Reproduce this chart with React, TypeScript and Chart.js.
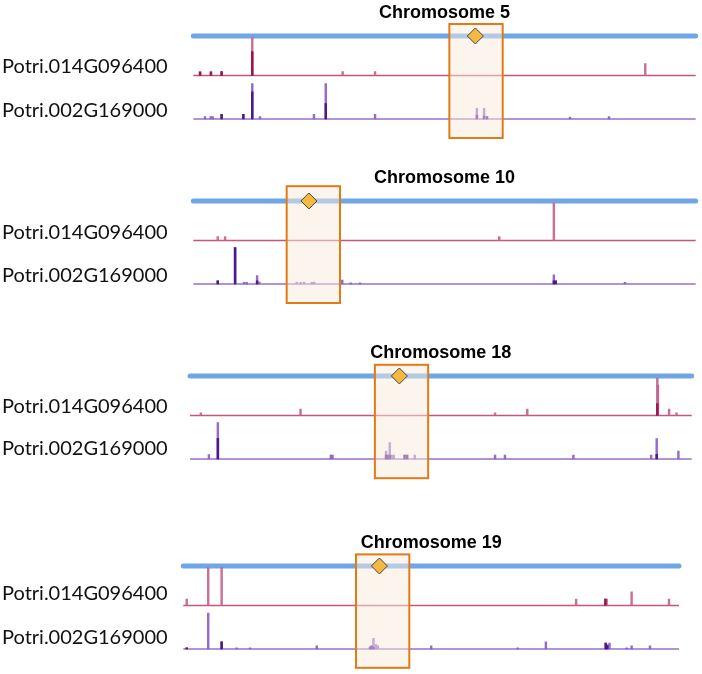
import React, { useEffect, useRef } from "react";
import { Chart, registerables } from "chart.js";

Chart.register(...registerables);

// ---------------- data ----------------
const CHROMOSOMES = ["Chromosome 5", "Chromosome 10", "Chromosome 18", "Chromosome 19"];
const CHROM_LENGTH_MB = [25.9, 22.6, 16.2, 15.9];
const REGION_START_MB = [13.2, 4.2, 5.97, 5.54];
const REGION_END_MB = [15.95, 6.6, 7.69, 7.25];
const GENE_POS_MB = [14.54, 5.2, 6.76, 6.29];
const TRACK_LABELS = ["Potri.014G096400", "Potri.002G169000"];

// [position (Mb), signal height, dense-core height]
const CHR5_014G: number[][] = [
  [0.35, 9, 9], [0.91, 9, 9], [1.46, 10, 10], [3.04, 95, 60], [7.7, 10, 0], [9.37, 10, 0], [23.3, 30, 0],
];
const CHR5_002G: number[][] = [
  [0.6, 6, 0], [0.9, 6, 0], [1.0, 6, 0], [1.46, 12, 12], [2.58, 12, 12], [3.04, 89, 68], [3.44, 6, 0],
  [6.22, 12, 0], [6.83, 89, 39], [9.37, 12, 0], [14.62, 27, 10], [14.99, 27, 8], [15.14, 6, 6],
  [19.42, 5, 0], [21.43, 6, 0],
];
const CHR10_014G: number[][] = [
  [1.1, 10, 0], [1.43, 10, 0], [13.76, 10, 0], [16.22, 94, 0],
];
const CHR10_002G: number[][] = [
  [1.1, 8, 8], [1.88, 91, 91], [2.28, 4, 0], [2.4, 4, 0], [2.87, 21, 8], [2.97, 5, 0], [4.65, 5, 0],
  [4.83, 4, 0], [4.98, 5, 0], [5.33, 4, 0], [5.44, 5, 0], [6.7, 10, 0], [7.08, 3, 0], [7.5, 3, 0],
  [16.22, 23, 8], [16.3, 8, 8], [19.42, 4, 0],
];
const CHR18_014G: number[][] = [
  [0.35, 7, 0], [3.57, 16, 0], [9.85, 7, 0], [10.89, 16, 0], [15.09, 93, 30], [15.11, 76, 0],
  [15.47, 16, 0], [15.71, 7, 0],
];
const CHR18_002G: number[][] = [
  [0.61, 11, 0], [0.9, 91, 52], [4.55, 10, 0], [4.6, 10, 0], [6.33, 20, 10], [6.37, 10, 10],
  [6.45, 41, 10], [6.52, 10, 0], [6.58, 10, 0], [6.93, 10, 10], [7.01, 10, 10], [7.26, 10, 0],
  [9.85, 10, 0], [10.17, 10, 0], [12.38, 10, 0], [14.89, 10, 0], [15.07, 51, 12], [15.77, 20, 0],
];
const CHR19_014G: number[][] = [
  [0.11, 16, 0], [0.8, 95, 0], [1.23, 95, 0], [12.6, 16, 0], [13.54, 16, 16], [13.58, 16, 0],
  [14.38, 34, 0], [15.58, 16, 0],
];
const CHR19_002G: number[][] = [
  [0.11, 3, 3], [0.8, 90, 0], [1.23, 18, 18], [1.71, 3, 0], [2.14, 3, 0], [4.28, 8, 0], [5.99, 5, 5],
  [6.04, 8, 8], [6.1, 27, 5], [6.18, 12, 0], [6.24, 8, 0], [7.95, 8, 0], [10.73, 3, 0], [11.63, 18, 0],
  [13.55, 15, 15], [13.6, 10, 10], [13.67, 15, 0], [14.22, 3, 0], [14.38, 8, 0], [14.97, 8, 0],
];

const TRACK_014G = [CHR5_014G, CHR10_014G, CHR18_014G, CHR19_014G];
const TRACK_002G = [CHR5_002G, CHR10_002G, CHR18_002G, CHR19_002G];

// ---------------- layout / style ----------------
const Y_MIN = -50;
const Y_MAX = 248;
const BASE_002G = 0;
const BASE_014G = 109;
const BASE_CHROM = 208;
const PANEL_H = 138;
const PANELS = [
  { top: 2, padL: 193.3, padR: 6.3, boxTop: 238, boxBottom: -47.5, lab1: -8.5, lab2: -8 },
  { top: 167, padL: 193.3, padR: 6.3, boxTop: 245, boxBottom: -47.5, lab1: -7.5, lab2: -8.5 },
  { top: 342.3, padL: 190, padR: 10.3, boxTop: 236, boxBottom: -48, lab1: -9, lab2: -10 },
  { top: 532, padL: 183.3, padR: 23, boxTop: 237, boxBottom: -47, lab1: -11.5, lab2: -11 },
];

const COLORS = {
  chrom: "#6fa6e8",
  base014: "#c5557f",
  base002: "#9670c6",
  sig014: "rgba(196, 96, 140, 0.9)",
  core014: "#9a1452",
  sig002: "rgba(140, 96, 196, 0.92)",
  core002: "#4a1a8a",
  box: "#e07b16",
  boxFill: "rgba(250, 236, 220, 0.5)",
  gene: "#f5b942",
};

function bars(track: number[][], base: number, idx: number) {
  return track.filter((d) => d[idx] > 0).map((d) => ({ x: d[0], y: [base, base + d[idx]] }));
}

function buildConfig(i: number): any {
  const L = CHROM_LENGTH_MB[i];
  const P = PANELS[i];
  const hline = (y: number) => [
    { x: 0, y },
    { x: L, y },
  ];

  const regionPlugin = {
    id: "region" + i,
    beforeDatasetDraw(chart: any, args: any) {
      if (args.index !== 0) return;
      const { x, y } = chart.scales;
      const l = x.getPixelForValue(REGION_START_MB[i]);
      const r = x.getPixelForValue(REGION_END_MB[i]);
      const t = y.getPixelForValue(P.boxTop);
      const b = y.getPixelForValue(P.boxBottom);
      const ctx = chart.ctx;
      ctx.save();
      ctx.fillStyle = COLORS.boxFill;
      ctx.fillRect(l, t, r - l, b - t);
      ctx.strokeStyle = COLORS.box;
      ctx.lineWidth = 2;
      ctx.strokeRect(l, t, r - l, b - t);
      ctx.restore();
    },
  };

  const labelPlugin = {
    id: "labels" + i,
    afterDraw(chart: any) {
      const y = chart.scales.y;
      const ctx = chart.ctx;
      ctx.save();
      ctx.font = "20px Lato";
      ctx.fillStyle = "#111";
      ctx.textAlign = "left";
      ctx.textBaseline = "middle";
      ctx.fillText(TRACK_LABELS[0], 2, y.getPixelForValue(BASE_014G) + P.lab1);
      ctx.fillText(TRACK_LABELS[1], 2, y.getPixelForValue(BASE_002G) + P.lab2);
      ctx.restore();
    },
  };

  return {
    type: "bar",
    data: {
      datasets: [
        {
          type: "line",
          label: "gene",
          data: [{ x: GENE_POS_MB[i], y: BASE_CHROM }],
          showLine: false,
          pointStyle: "rectRot",
          pointRadius: 8,
          pointHoverRadius: 8,
          pointBackgroundColor: COLORS.gene,
          pointBorderColor: "#444",
          pointBorderWidth: 1,
          order: 0,
          clip: false,
        },
        {
          type: "line",
          label: "chromosome",
          data: hline(BASE_CHROM),
          borderColor: COLORS.chrom,
          borderWidth: 5,
          borderCapStyle: "round",
          pointRadius: 0,
          order: 6,
          clip: false,
        },
        {
          type: "line",
          label: "base014",
          data: hline(BASE_014G),
          borderColor: COLORS.base014,
          borderWidth: 1.6,
          pointRadius: 0,
          order: 5,
          clip: false,
        },
        {
          type: "line",
          label: "base002",
          data: hline(BASE_002G),
          borderColor: COLORS.base002,
          borderWidth: 1.6,
          pointRadius: 0,
          order: 5,
          clip: false,
        },
        {
          label: TRACK_LABELS[0],
          data: bars(TRACK_014G[i], BASE_014G, 1),
          backgroundColor: COLORS.sig014,
          barThickness: 1.8,
          grouped: false,
          order: 4,
        },
        {
          label: TRACK_LABELS[0] + " core",
          data: bars(TRACK_014G[i], BASE_014G, 2),
          backgroundColor: COLORS.core014,
          barThickness: 1.8,
          grouped: false,
          order: 3,
        },
        {
          label: TRACK_LABELS[1],
          data: bars(TRACK_002G[i], BASE_002G, 1),
          backgroundColor: COLORS.sig002,
          barThickness: 1.8,
          grouped: false,
          order: 4,
        },
        {
          label: TRACK_LABELS[1] + " core",
          data: bars(TRACK_002G[i], BASE_002G, 2),
          backgroundColor: COLORS.core002,
          barThickness: 1.8,
          grouped: false,
          order: 3,
        },
      ],
    },
    options: {
      animation: false,
      responsive: true,
      maintainAspectRatio: false,
      events: [],
      layout: { autoPadding: false, padding: { left: P.padL, right: P.padR, top: 0, bottom: 1 } },
      scales: {
        x: { type: "linear", min: 0, max: L, display: false, offset: false },
        y: { type: "linear", min: Y_MIN, max: Y_MAX, display: false },
      },
      plugins: {
        legend: { display: false },
        tooltip: { enabled: false },
        title: {
          display: true,
          text: CHROMOSOMES[i],
          color: "#000",
          fullSize: false,
          align: "center",
          padding: { top: 2, bottom: -2 },
          font: { family: "'Liberation Sans', Arial, sans-serif", size: 18, weight: "bold", lineHeight: 1 },
        },
      },
    },
    plugins: [regionPlugin, labelPlugin],
  };
}

function Panel({ i }: { i: number }) {
  const ref = useRef<HTMLCanvasElement>(null);
  useEffect(() => {
    const chart = new Chart(ref.current as HTMLCanvasElement, buildConfig(i));
    return () => chart.destroy();
  }, [i]);
  return (
    <div style={{ position: "absolute", left: 0, top: PANELS[i].top, width: 702, height: PANEL_H }}>
      <canvas ref={ref} />
    </div>
  );
}

export default function App() {
  return (
    <div style={{ position: "absolute", left: 0, top: 0, width: 702, height: 674, background: "#fff" }}>
      {CHROMOSOMES.map((_, i) => (
        <Panel key={i} i={i} />
      ))}
    </div>
  );
}
